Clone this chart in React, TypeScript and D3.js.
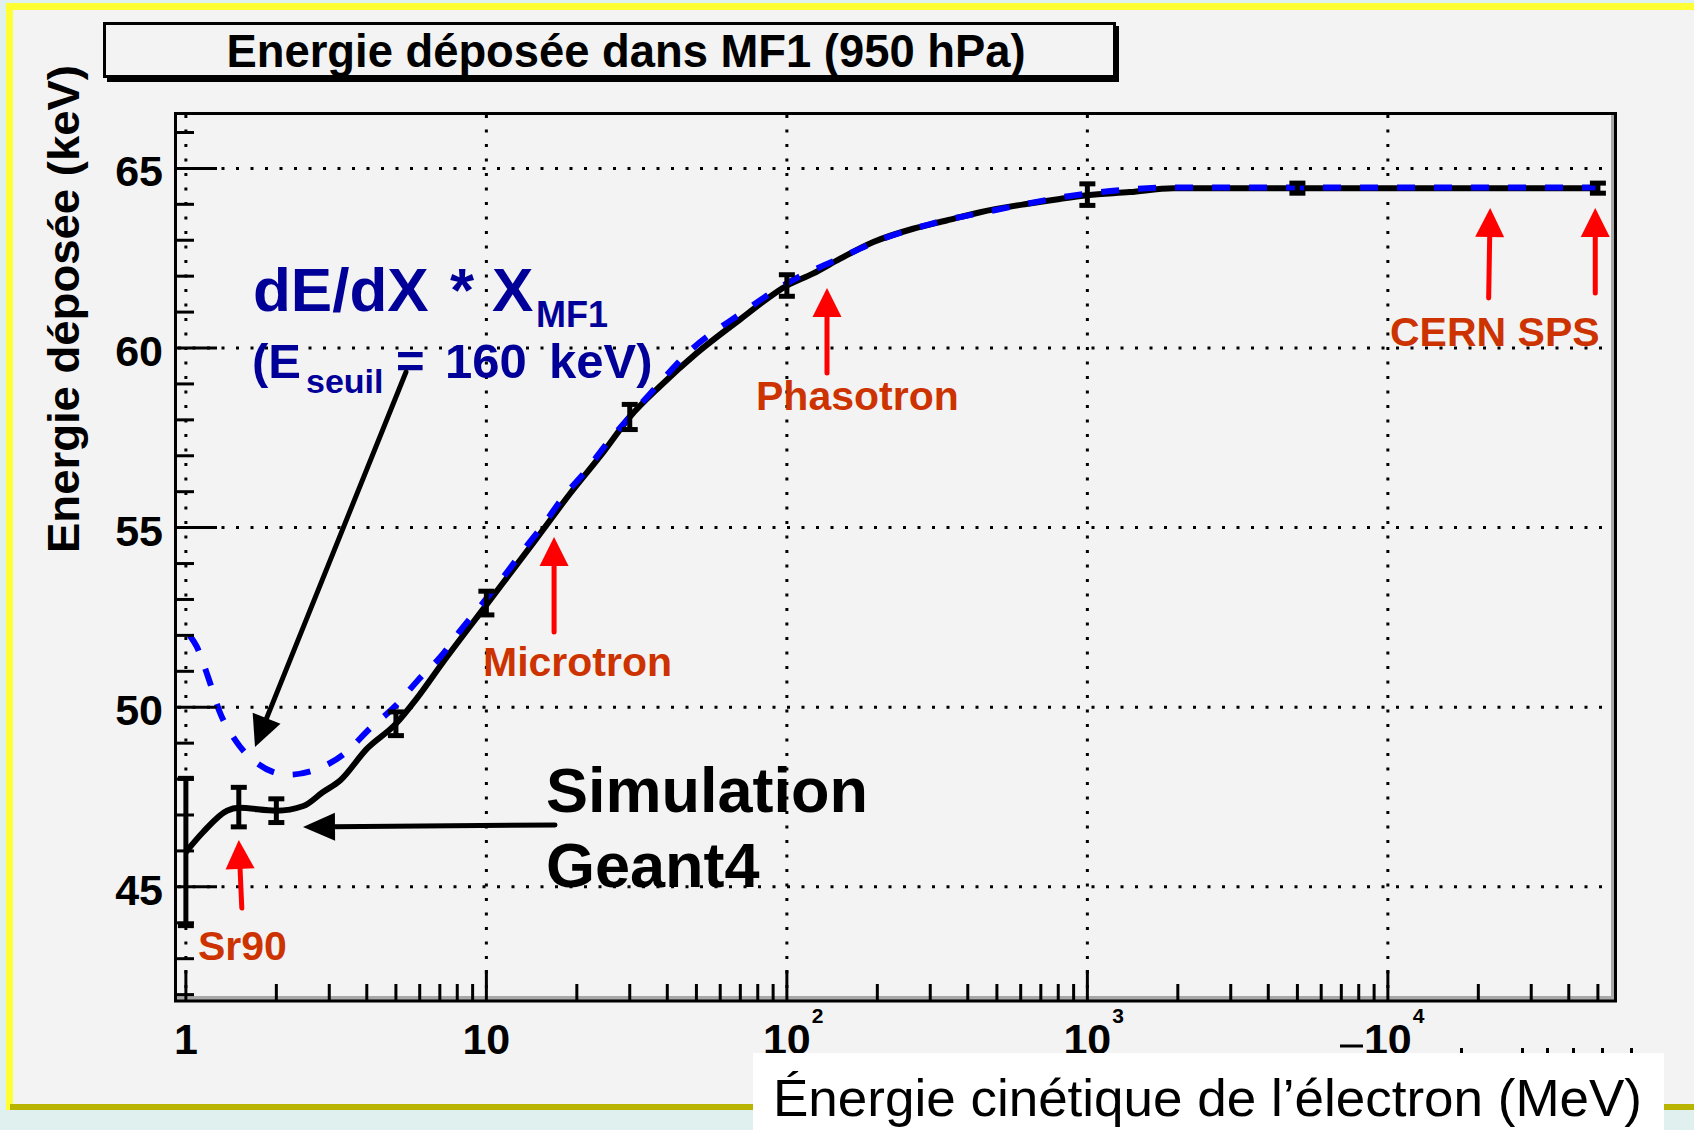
import { useEffect, useRef } from 'react';
import * as d3 from 'd3';

// Geant4 simulation (black solid line)
const simEnergy = [1, 1.14, 1.37, 1.5, 2, 2.46, 2.86, 3.26, 4, 5, 5.86, 7.18, 10, 14.7, 19, 24.5, 30, 38, 50, 70, 100, 122, 150, 194, 263, 340, 440, 627, 810, 1000, 1385, 1930, 5000, 50000];
const simDeposit = [45.97, 46.52, 47.12, 47.2, 47.12, 47.25, 47.64, 47.96, 48.84, 49.54, 50.24, 51.26, 52.85, 54.7, 55.95, 57.1, 58.08, 58.95, 59.85, 60.8, 61.74, 62.07, 62.48, 62.95, 63.32, 63.55, 63.78, 64.01, 64.15, 64.25, 64.34, 64.45, 64.45, 64.45];

// simulation points carrying error bars
const barEnergy = [1, 1.5, 2, 5, 10, 30, 100, 1000, 5000, 50000];
const barDeposit = [45.97, 47.22, 47.12, 49.54, 52.9, 58.08, 61.74, 64.27, 64.45, 64.45];
const barError = [2.05, 0.55, 0.33, 0.33, 0.33, 0.35, 0.3, 0.3, 0.14, 0.14];

// dE/dX * X_MF1 (blue dashed)
const bbEnergy = [1.03, 1.085, 1.19, 1.29, 1.47, 1.74, 2.19, 2.72, 3.38, 4.09, 5, 5.9, 7.1, 8.2, 9.8, 11.5, 13.4, 15.7, 18, 21.3, 25.1, 29.6, 35, 48, 70, 100, 150, 200, 300, 500, 1000, 2000, 5000, 50000];
const bbDeposit = [52.0, 51.7, 50.8, 49.91, 49.05, 48.42, 48.12, 48.27, 48.72, 49.4, 50.05, 50.74, 51.44, 52.14, 52.93, 53.67, 54.41, 55.15, 55.85, 56.55, 57.33, 58.03, 58.72, 59.95, 60.95, 61.8, 62.5, 62.98, 63.45, 63.85, 64.3, 64.47, 64.47, 64.47];

// axis ticks
const yMajor = [45, 50, 55, 60, 65];
const xDecades = [1, 10, 100, 1000, 10000];
const xBase = ["1", "10", "10", "10", "10"];
const xExp = ["", "", "2", "3", "4"];

// accelerators marked with red arrows
const accelNames = ["Sr90", "Microtron", "Phasotron", "CERN SPS", ""];
const accelEnergy = [1.5, 16.8, 136, 21900, 49000];

const FONT = "'Liberation Sans', Arial, Helvetica, sans-serif";

const App = () => {
    const ref = useRef<SVGSVGElement>(null);

    useEffect(() => {
        const svg = d3.select(ref.current);
        svg.selectAll("*").remove();

        const W = 1694, H = 1130;
        const left = 175, right = 1615, top = 112, bottom = 1000;

        const x = d3.scaleLog().domain([0.92, 57000]).range([left, right]);
        const y = d3.scaleLinear().domain([41.85, 66.57]).range([bottom, top]);

        // page background, yellow border, canvas
        svg.append("rect").attr("width", W).attr("height", H).attr("fill", "#dff0ef");
        svg.append("rect").attr("x", 6).attr("y", 3).attr("width", W - 6).attr("height", 1107).attr("fill", "#ffff33");
        svg.append("rect").attr("x", 13).attr("y", 10).attr("width", W - 13).attr("height", 1094).attr("fill", "#f3f3f3");
        svg.append("rect").attr("x", 10).attr("y", 1104).attr("width", W - 10).attr("height", 6).attr("fill", "#b8b400");

        // title box
        svg.append("rect").attr("x", 1116).attr("y", 26).attr("width", 3).attr("height", 56).attr("fill", "#000");
        svg.append("rect").attr("x", 107).attr("y", 78).attr("width", 1012).attr("height", 4).attr("fill", "#000");
        svg.append("rect").attr("x", 104.5).attr("y", 23.5).attr("width", 1010).attr("height", 53)
            .attr("fill", "#f3f3f3").attr("stroke", "#000").attr("stroke-width", 3);
        svg.append("text")
            .attr("x", 626).attr("y", 67)
            .attr("text-anchor", "middle")
            .attr("textLength", 799).attr("lengthAdjust", "spacingAndGlyphs")
            .style("font-family", FONT).style("font-weight", "bold").style("font-size", "46px")
            .text("Energie déposée dans MF1 (950 hPa)");

        // y axis title
        svg.append("text")
            .attr("transform", "translate(79,553) rotate(-90)")
            .attr("textLength", 488).attr("lengthAdjust", "spacingAndGlyphs")
            .style("font-family", FONT).style("font-weight", "bold").style("font-size", "44px")
            .text("Energie déposée (keV)");

        // dotted grid
        yMajor.forEach((v) => {
            svg.append("line")
                .attr("x1", left + 3).attr("x2", right - 3)
                .attr("y1", y(v)).attr("y2", y(v))
                .attr("stroke", "#000").attr("stroke-width", 3)
                .attr("stroke-dasharray", "3 11.5");
        });
        xDecades.forEach((v) => {
            svg.append("line")
                .attr("x1", x(v)).attr("x2", x(v))
                .attr("y1", top + 3).attr("y2", bottom - 3)
                .attr("stroke", "#000").attr("stroke-width", 3)
                .attr("stroke-dasharray", "3 11.5");
        });

        // annotations
        const blueText = svg.append("text").attr("y", 311)
            .style("font-family", FONT).style("font-weight", "bold").style("font-size", "62px")
            .attr("fill", "#000099");
        blueText.append("tspan").attr("x", 253).text("dE/dX");
        blueText.append("tspan").attr("x", 450).text("*");
        blueText.append("tspan").attr("x", 492).text("X");
        svg.append("text").attr("x", 536).attr("y", 327)
            .style("font-family", FONT).style("font-weight", "bold").style("font-size", "36px")
            .attr("fill", "#000099").text("MF1");

        const blueText2 = svg.append("text").attr("y", 378)
            .style("font-family", FONT).style("font-weight", "bold").style("font-size", "49px")
            .attr("fill", "#000099");
        blueText2.append("tspan").attr("x", 252).text("(E");
        blueText2.append("tspan").attr("x", 396).text("=");
        blueText2.append("tspan").attr("x", 445).text("160");
        blueText2.append("tspan").attr("x", 549).text("keV)");
        svg.append("text").attr("x", 306).attr("y", 393)
            .style("font-family", FONT).style("font-weight", "bold").style("font-size", "34px")
            .attr("fill", "#000099").text("seuil");

        svg.append("text").attr("x", 546).attr("y", 812)
            .style("font-family", FONT).style("font-weight", "bold").style("font-size", "63px")
            .text("Simulation");
        svg.append("text").attr("x", 546).attr("y", 887)
            .style("font-family", FONT).style("font-weight", "bold").style("font-size", "63px")
            .text("Geant4");

        // curves
        const line = d3.line<[number, number]>()
            .x((d) => x(d[0]))
            .y((d) => y(d[1]))
            .curve(d3.curveMonotoneX);

        svg.append("path")
            .datum(simEnergy.map((e, i) => [e, simDeposit[i]] as [number, number]))
            .attr("d", line)
            .attr("fill", "none").attr("stroke", "#000").attr("stroke-width", 6);

        svg.append("path")
            .datum(bbEnergy.map((e, i) => [e, bbDeposit[i]] as [number, number]))
            .attr("d", line)
            .attr("fill", "none").attr("stroke", "#0000ff").attr("stroke-width", 6)
            .attr("stroke-dasharray", "18 19");

        // error bars
        barEnergy.forEach((e, i) => {
            const cx = x(e);
            const y0 = y(barDeposit[i] - barError[i]);
            const y1 = y(barDeposit[i] + barError[i]);
            svg.append("line").attr("x1", cx).attr("x2", cx).attr("y1", y0).attr("y2", y1)
                .attr("stroke", "#000").attr("stroke-width", 5);
            [y0, y1].forEach((yy) => {
                svg.append("line").attr("x1", cx - 8).attr("x2", cx + 8).attr("y1", yy).attr("y2", yy)
                    .attr("stroke", "#000").attr("stroke-width", 5);
            });
        });

        // arrows
        function arrow(x1: number, y1: number, x2: number, y2: number, color: string, hl: number, hw: number) {
            const dx = x2 - x1, dy = y2 - y1;
            const L = Math.hypot(dx, dy);
            const ux = dx / L, uy = dy / L;
            const bx = x2 - ux * hl, by = y2 - uy * hl;
            svg.append("line")
                .attr("x1", x1).attr("y1", y1).attr("x2", bx + ux * 2).attr("y2", by + uy * 2)
                .attr("stroke", color).attr("stroke-width", 5).attr("stroke-linecap", "round");
            svg.append("path")
                .attr("d", `M${x2},${y2}L${bx - uy * hw},${by + ux * hw}L${bx + uy * hw},${by - ux * hw}Z`)
                .attr("fill", color);
        }

        arrow(406, 372, 255, 747, "#000", 31, 15);
        arrow(555, 825, 303, 827, "#000", 32, 14);

        const arrowTail = [908, 632, 373, 298, 293];
        const arrowTip = [840, 537, 288, 208, 208];
        const tailShift = [3, 0, 0, -1.5, 0];
        accelEnergy.forEach((e, i) => {
            arrow(x(e) + tailShift[i], arrowTail[i], x(e), arrowTip[i], "#ff0000", 29, 14.5);
        });

        const labelX = [198, 483, 756, 1390];
        const labelY = [960, 676, 410, 346];
        labelX.forEach((lx, i) => {
            svg.append("text").attr("x", lx).attr("y", labelY[i])
                .style("font-family", FONT).style("font-weight", "bold").style("font-size", "41px")
                .attr("fill", "#cc3300").text(accelNames[i]);
        });

        // frame with bevel
        svg.append("rect").attr("x", left).attr("y", bottom - 4).attr("width", right - left).attr("height", 4).attr("fill", "#a8a8a8");
        svg.append("rect").attr("x", right - 4).attr("y", top).attr("width", 4).attr("height", bottom - top).attr("fill", "#a8a8a8");

        // y ticks
        d3.range(42, 67).forEach((v) => {
            const len = v % 5 === 0 ? 42 : 19;
            svg.append("line").attr("x1", left).attr("x2", left + len).attr("y1", y(v)).attr("y2", y(v))
                .attr("stroke", "#000").attr("stroke-width", 3);
        });
        // x ticks
        d3.range(0, 5).forEach((d) => {
            d3.range(1, 10).forEach((k) => {
                const e = k * Math.pow(10, d);
                if (e > 57000) return;
                const len = k === 1 ? 30 : 16;
                svg.append("line").attr("x1", x(e)).attr("x2", x(e)).attr("y1", bottom).attr("y2", bottom - len)
                    .attr("stroke", "#000").attr("stroke-width", 3);
            });
        });

        svg.append("rect").attr("x", left + 0.5).attr("y", top + 1.5).attr("width", right - left).attr("height", bottom - top - 0.5)
            .attr("fill", "none").attr("stroke", "#000").attr("stroke-width", 3);

        // tick labels
        yMajor.forEach((v) => {
            svg.append("text").attr("x", 163).attr("y", y(v) + 18)
                .attr("text-anchor", "end")
                .style("font-family", FONT).style("font-weight", "bold").style("font-size", "43px")
                .text(String(v));
        });
        xDecades.forEach((v, i) => {
            svg.append("text").attr("x", x(v)).attr("y", 1054)
                .attr("text-anchor", "middle")
                .style("font-family", FONT).style("font-weight", "bold").style("font-size", "43px")
                .text(xBase[i]);
            if (xExp[i]) {
                svg.append("text").attr("x", x(v) + 25).attr("y", 1023)
                    .style("font-family", FONT).style("font-weight", "bold").style("font-size", "21px")
                    .text(xExp[i]);
            }
        });
        // stray label fragments left by the overlapping legend box
        svg.append("line").attr("x1", 1340).attr("x2", 1363).attr("y1", 1046).attr("y2", 1046)
            .attr("stroke", "#000").attr("stroke-width", 3);
        [1460, 1521, 1546, 1572, 1601, 1630].forEach((mx) => {
            svg.append("rect").attr("x", mx).attr("y", 1048).attr("width", 3).attr("height", 5).attr("fill", "#000");
        });

        // x axis caption on white box
        svg.append("rect").attr("x", 753).attr("y", 1053).attr("width", 911).attr("height", 77).attr("fill", "#ffffff");
        svg.append("text")
            .attr("x", 773).attr("y", 1116)
            .attr("textLength", 869).attr("lengthAdjust", "spacingAndGlyphs")
            .style("font-family", FONT).style("font-size", "52px")
            .text("Énergie cinétique de l’électron (MeV)");
    }, []);

    return (
        <svg ref={ref} width={1694} height={1130}
            style={{ position: "absolute", left: 0, top: 0, display: "block" }} />
    );
};

export default App;
